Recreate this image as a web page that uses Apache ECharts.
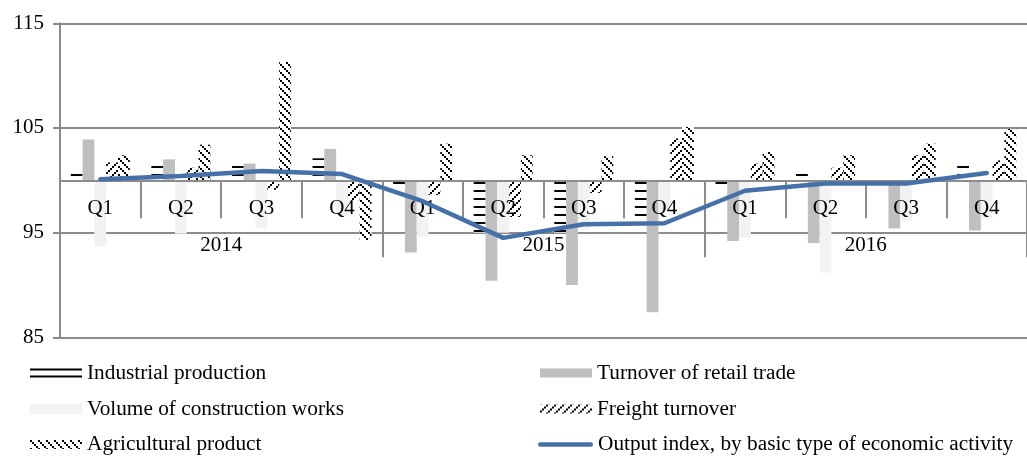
<!DOCTYPE html>
<html>
<head>
<meta charset="utf-8">
<script src="https://cdn.jsdelivr.net/npm/echarts@6/dist/echarts.min.js"></script>
<style>
  html, body { margin: 0; padding: 0; background: #fff; }
  #chart { width: 1027px; height: 457px; }
</style>
</head>
<body>
<div id="chart"></div>
<script>
// Quarterly indices, same quarter of previous year = 100
const quarters = ['Q1', 'Q2', 'Q3', 'Q4', 'Q1', 'Q2', 'Q3', 'Q4', 'Q1', 'Q2', 'Q3', 'Q4'];
const years = ['2014', '2015', '2016'];
const yTickValues = [85, 95, 105, 115];

const industrialProduction = [100.8, 101.5, 101.6, 102.1, 99.5, 95.0, 95.0, 96.2, 99.5, 100.8, 100.2, 101.4];
const retailTurnover       = [103.9, 102.0, 101.6, 103.0, 93.1, 90.4, 90.0, 87.4, 94.2, 94.0, 95.4, 95.2];
const constructionVolume   = [93.7, 94.9, 95.4, 96.6, 94.6, 95.0, 95.3, 97.0, 94.5, 91.2, 96.1, 96.3];
const freightTurnover      = [101.7, 101.2, 99.1, 98.1, 98.6, 96.5, 98.8, 104.0, 101.6, 101.2, 102.4, 101.9];
const agriculturalProduct  = [102.4, 103.4, 111.3, 94.3, 103.5, 102.4, 102.3, 105.1, 102.7, 102.4, 103.5, 104.9];
const outputIndex          = [100.1, 100.4, 100.9, 100.6, 98.0, 94.5, 95.8, 95.9, 99.0, 99.7, 99.7, 100.7];

// The category axis crosses at 100, so bars grow from 100: plot the deviation from it.
const BASE = 100;
const dev = arr => arr.map(v => +(v - BASE).toFixed(2));

const FONT = 'Liberation Serif';
const GRAY = '#8c8c8c';

// Fill textures for the patterned bars
function tile(size, draw) {
  const c = document.createElement('canvas');
  c.width = size; c.height = size;
  const ctx = c.getContext('2d');
  ctx.fillStyle = '#fff';
  ctx.fillRect(0, 0, size, size);
  ctx.fillStyle = '#000';
  draw(ctx, size);
  return { image: c, repeat: 'repeat' };
}
const horizontalLines = tile(8, (ctx, s) => ctx.fillRect(0, 6, s, 2));
const upwardDiagonal = tile(8, ctx => { for (let k = 0; k < 4; k++) ctx.fillRect(6 - 2 * k, 2 * k, 2, 2); });
const downwardDiagonal = tile(8, ctx => { for (let k = 0; k < 4; k++) ctx.fillRect(2 * k, 2 * k, 2, 2); });

const barCommon = { type: 'bar', barWidth: 11.8, barGap: '0%', z: 2, xAxisIndex: 2, yAxisIndex: 0 };

const textStyle = { fontFamily: FONT, fontSize: 21, color: '#000' };

function legendItem(entry, left, centerY, itemWidth, itemHeight, icon) {
  return {
    data: [entry], left: left, top: centerY - 12, padding: 0,
    itemWidth: itemWidth, itemHeight: itemHeight, itemGap: 0, selectedMode: false,
    icon: icon,
    textStyle: { fontFamily: FONT, fontSize: 21.3, color: '#000', lineHeight: 24 }
  };
}
// rounded bar used as the legend key of the line series
const lineKey = 'path://M2,0 L48,0 A2,2 0 0 1 48,4 L2,4 A2,2 0 0 1 2,0 Z';
// two thin rules used as the legend key of the horizontally-lined bars
const doubleRuleKey = 'path://M0,0 L52,0 L52,2 L0,2 Z M0,7 L52,7 L52,9 L0,9 Z';

// Plot area spans 85..115; the upper grid ends exactly on the 100 line and carries the category axes.
const plotLeft = 60, plotRight = -12, plotTop = 23.3, plotBottom = 119.7;

const option = {
  animation: false,
  backgroundColor: '#fff',
  textStyle: { fontFamily: FONT },
  grid: [
    { left: plotLeft, right: plotRight, top: plotTop, bottom: plotBottom },
    { left: plotLeft, right: plotRight, top: plotTop, height: 157 }
  ],
  legend: [
    legendItem({ name: 'Industrial production', itemStyle: { color: '#000' } }, 30, 373, 52, 9, doubleRuleKey),
    legendItem('Volume of construction works', 30, 409, 52, 10, 'rect'),
    legendItem('Agricultural product', 30, 444.5, 52, 9, 'rect'),
    legendItem('Turnover of retail trade', 540, 373, 52, 9, 'rect'),
    legendItem('Freight turnover', 540, 409, 52, 9, 'rect'),
    legendItem('Output index, by basic type of economic activity', 538, 444.5, 55, 4.5, lineKey)
  ],
  xAxis: [
    {
      gridIndex: 1, type: 'category', data: quarters, position: 'bottom', z: 3,
      axisLine: { onZero: false, lineStyle: { color: GRAY, width: 2 } },
      axisTick: { show: true, interval: 0, length: 38, lineStyle: { color: GRAY, width: 2 } },
      axisLabel: Object.assign({ interval: 0, margin: 18 }, textStyle),
      splitLine: { show: false }
    },
    {
      gridIndex: 1, type: 'category', data: years, position: 'bottom', z: 3,
      axisLine: { show: false, onZero: false },
      axisTick: { show: true, interval: 0, length: 77, lineStyle: { color: GRAY, width: 2 } },
      axisLabel: Object.assign({ interval: 0, margin: 55 }, textStyle),
      splitLine: { show: false }
    },
    {
      gridIndex: 0, type: 'category', data: quarters, show: false,
      axisLine: { onZero: false }
    }
  ],
  yAxis: [
    {
      gridIndex: 0, type: 'value',
      min: yTickValues[0] - BASE, max: yTickValues[yTickValues.length - 1] - BASE, interval: 10,
      axisLine: { show: true, onZero: false, lineStyle: { color: GRAY, width: 2 } },
      axisTick: { show: true, length: 7, lineStyle: { color: GRAY, width: 2 } },
      axisLabel: Object.assign({ margin: 16, formatter: v => String(Math.round(v + BASE)) }, textStyle),
      splitLine: { show: true, lineStyle: { color: GRAY, width: 2 } }
    },
    { gridIndex: 1, type: 'value', show: false, splitLine: { show: false } }
  ],
  series: [
    Object.assign({ name: 'Industrial production', data: dev(industrialProduction), itemStyle: { color: horizontalLines } }, barCommon),
    Object.assign({ name: 'Turnover of retail trade', data: dev(retailTurnover), itemStyle: { color: '#bfbfbf' } }, barCommon),
    Object.assign({ name: 'Volume of construction works', data: dev(constructionVolume), itemStyle: { color: '#f2f2f2' } }, barCommon),
    Object.assign({ name: 'Freight turnover', data: dev(freightTurnover), itemStyle: { color: upwardDiagonal } }, barCommon),
    Object.assign({ name: 'Agricultural product', data: dev(agriculturalProduct), itemStyle: { color: downwardDiagonal } }, barCommon),
    {
      name: 'Output index, by basic type of economic activity', type: 'line', z: 4,
      xAxisIndex: 2, yAxisIndex: 0,
      data: dev(outputIndex), symbol: 'none', showSymbol: false, smooth: false,
      itemStyle: { color: '#4571a8' },
      lineStyle: { color: '#4571a8', width: 4.5, cap: 'round', join: 'round' }
    }
  ]
};

const chart = echarts.init(document.getElementById('chart'), null, { renderer: 'canvas' });
chart.setOption(option);
</script>
</body>
</html>
